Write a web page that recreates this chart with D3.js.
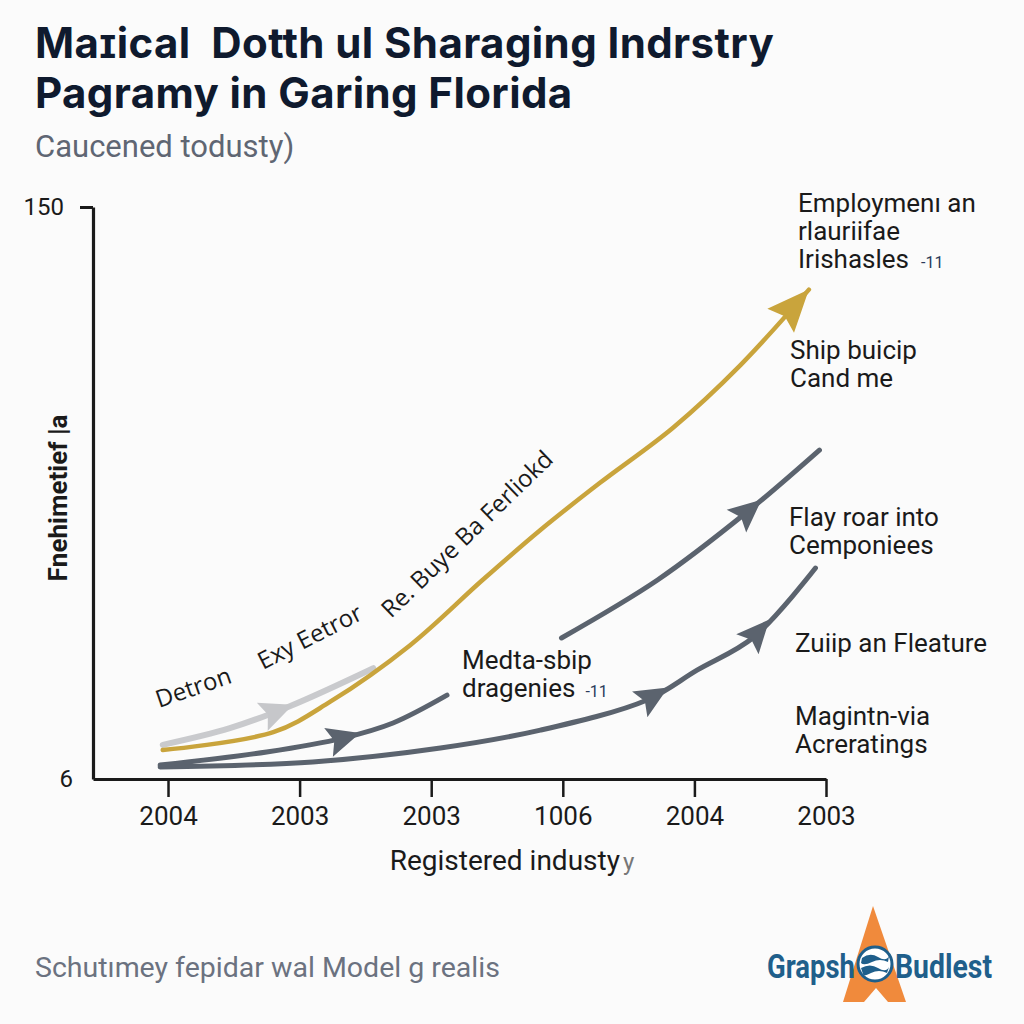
<!DOCTYPE html>
<html>
<head>
<meta charset="utf-8">
<script src="https://cdn.jsdelivr.net/npm/d3@7"></script>
<style>
  html, body { margin: 0; padding: 0; background: #fbfbfb; }
  svg { display: block; }
</style>
</head>
<body>
<svg id="chart" width="1024" height="1024"></svg>
<script>
// ---------- DATA ----------
const xTickLabels = ["2004", "2003", "2003", "1006", "2004", "2003"];
const yTickValues = [6, 150];

// series values (x in category-index units, y in chart units)
const goldX  = [-0.04, 0.80, 1.23, 1.84, 2.39, 2.83, 3.28, 3.84, 4.35, 4.87];
const goldY  = [13.3, 17.8, 25.4, 39.7, 56.1, 68.7, 80.5, 94.5, 110.2, 129.2];

const lightX = [-0.04, 0.47, 0.93, 1.56];
const lightY = [14.6, 18.8, 24.4, 33.9];

const midX   = [-0.06, 0.75, 1.33, 1.71, 2.12, null, 2.99, 3.72, 4.40, 4.95];
const midY   = [9.5, 12.8, 16.3, 20.1, 27.1, null, 41.5, 56.1, 73.2, 88.8];

const lowX   = [-0.06, 1.10, 2.07, 2.83, 3.64, 4.02, 4.45, 4.92];
const lowY   = [9.0, 10.3, 13.8, 18.3, 25.9, 33.4, 41.7, 59.1];

// arrowhead tips (x positions along a series)
const arrowSeries = ["gold", "light", "mid", "mid", "low", "low"];
const arrowTipX   = [4.87, 0.95, 1.46, 4.51, 3.80, 4.57];

// texts
const titleLines = ["Maɪical  Dotth ul Sharaging Indrstry", "Pagramy in Garing Florida"];
const subtitle = "Caucened todusty)";
const yAxisTitle = "Fnehimetief |a";
const xAxisTitle = "Registered industy";
const footnote = "Schutımey fepidar wal Model g realis";
const slantLabels = ["Detron", "Exy Eetror", "Re. Buye Ba Ferliokd"];
const midLabel = ["Medta-sbip", "dragenies"];
const rightLabels = [
  ["Employmen\u0131 an", "rlauriifae", "Irishasles"],
  ["Ship buicip", "Cand me"],
  ["Flay roar into", "Cemponiees"],
  ["Zuiip an Fleature"],
  ["Magintn-via", "Acreratings"]
];

// ---------- SETUP ----------
const svg = d3.select("#chart");
svg.append("rect").attr("width", 1024).attr("height", 1024).attr("fill", "#fbfbfb");

const x = d3.scaleLinear().domain([-0.57, 5]).range([93, 826]);
const y = d3.scaleLinear().domain([6, 150]).range([779, 207]);

const colors = { gold: "#c9a43c", light: "#c9cacd", mid: "#5b636e", low: "#5b636e" };
const widths = { gold: 4.5, light: 6, mid: 5, low: 5 };

function zipSeries(xs, ys) {
  return xs.map((v, i) => (v === null ? null : { x: v, y: ys[i] }));
}
const seriesData = {
  gold: zipSeries(goldX, goldY),
  light: zipSeries(lightX, lightY),
  mid: zipSeries(midX, midY),
  low: zipSeries(lowX, lowY)
};

// ---------- TITLES ----------
svg.append("text").attr("x", 35).attr("y", 58)
  .attr("font-family", "Inter, sans-serif").attr("font-weight", 700)
  .attr("font-size", 42).attr("letter-spacing", 0.4).attr("xml:space", "preserve")
  .style("white-space", "pre")
  .attr("fill", "#0f1a2e").text(titleLines[0]);
svg.append("text").attr("x", 35).attr("y", 108)
  .attr("font-family", "Inter, sans-serif").attr("font-weight", 700)
  .attr("font-size", 42).attr("letter-spacing", 0.4)
  .attr("fill", "#0f1a2e").text(titleLines[1]);
svg.append("text").attr("x", 35).attr("y", 157)
  .attr("font-family", "Roboto, sans-serif").attr("font-weight", 400)
  .attr("font-size", 31).attr("fill", "#5f6673").text(subtitle);

// ---------- AXES ----------
const xAxis = d3.axisBottom(x)
  .tickValues(d3.range(xTickLabels.length))
  .tickFormat(i => xTickLabels[i])
  .tickSize(18).tickSizeOuter(0).tickPadding(10);
const gx = svg.append("g").attr("transform", `translate(0,${y(6)})`).call(xAxis);
gx.select(".domain").attr("stroke", "#1a1a1a").attr("stroke-width", 3.2);
gx.selectAll(".tick line").attr("stroke", "#1a1a1a").attr("stroke-width", 2.5);
gx.selectAll(".tick text").attr("font-family", "Roboto, sans-serif")
  .attr("font-size", 26).attr("fill", "#1a1a1a");

const yAxis = d3.axisLeft(y).tickValues(yTickValues).tickFormat(d3.format("d"))
  .tickSize(13).tickSizeOuter(0).tickPadding(16);
const gy = svg.append("g").attr("transform", `translate(${x(-0.57)},0)`).call(yAxis);
gy.select(".domain").attr("stroke", "#1a1a1a").attr("stroke-width", 3.2);
gy.selectAll(".tick line").attr("stroke", "#1a1a1a").attr("stroke-width", 3)
  .attr("opacity", d => d === 6 ? 0 : 1);
gy.selectAll(".tick text").attr("font-family", "Roboto, sans-serif")
  .attr("font-size", 24).attr("fill", "#1a1a1a")
  .attr("x", d => d === 6 ? -20 : -29);

svg.append("text")
  .attr("transform", `translate(67,498) rotate(-90)`)
  .attr("text-anchor", "middle")
  .attr("font-family", "Roboto, sans-serif").attr("font-weight", 700)
  .attr("font-size", 26).attr("fill", "#1a1a1a").text(yAxisTitle);

const xt = svg.append("text").attr("x", 512).attr("y", 870)
  .attr("text-anchor", "middle")
  .attr("font-family", "Roboto, sans-serif").attr("font-size", 28).attr("fill", "#1a1a1a");
xt.append("tspan").text(xAxisTitle);
xt.append("tspan").attr("fill", "#777").attr("font-size", 24).attr("dx", 3).text("y");

// ---------- LINES ----------
const line = d3.line().defined(d => d !== null)
  .x(d => x(d.x)).y(d => y(d.y)).curve(d3.curveCatmullRom.alpha(0.5));

["light", "low", "mid", "gold"].forEach(k => {
  svg.append("path").datum(seriesData[k])
    .attr("d", line).attr("fill", "none")
    .attr("stroke", colors[k]).attr("stroke-width", widths[k])
    .attr("stroke-linecap", "round").attr("stroke-linejoin", "round");
});

// ---------- ARROWHEADS ----------
function valueAt(pts, xv) {
  const p = pts.filter(d => d !== null);
  for (let i = 0; i < p.length - 1; i++) {
    if (xv >= p[i].x && xv <= p[i + 1].x) {
      const t = (xv - p[i].x) / (p[i + 1].x - p[i].x);
      return p[i].y + t * (p[i + 1].y - p[i].y);
    }
  }
  return p[p.length - 1].y;
}
arrowSeries.forEach((k, i) => {
  const pts = seriesData[k];
  const tx = arrowTipX[i];
  const px = x(tx), py = y(valueAt(pts, tx));
  const bx = x(tx - 0.08), by = y(valueAt(pts, tx - 0.08));
  const ang = Math.atan2(py - by, px - bx);
  const big = k === "gold";
  const len = big ? 42 : 33, half = big ? 18 : 15;
  const ux = Math.cos(ang), uy = Math.sin(ang);
  const cx = px - ux * len, cy = py - uy * len;
  const pth = `M${px},${py}L${cx - uy * half},${cy + ux * half}L${cx + ux * 6},${cy + uy * 6}L${cx + uy * half},${cy - ux * half}Z`;
  svg.append("path").attr("d", pth).attr("fill", colors[k] === "#c9cacd" ? "#c6c7ca" : colors[k]);
});

// ---------- ANNOTATIONS ----------
const slantPos = [[159, 708, -19], [263, 670, -27], [391, 619, -44]];
slantLabels.forEach((t, i) => {
  svg.append("text")
    .attr("transform", `translate(${slantPos[i][0]},${slantPos[i][1]}) rotate(${slantPos[i][2]})`)
    .attr("font-family", "'Open Sans', sans-serif").attr("font-size", 24)
    .attr("fill", "#1a1a1a").text(t);
});

svg.append("text").attr("x", 462).attr("y", 669)
  .attr("font-family", "Roboto, sans-serif").attr("font-size", 26).attr("fill", "#1a1a1a")
  .text(midLabel[0]);
const ml = svg.append("text").attr("x", 462).attr("y", 697)
  .attr("font-family", "Roboto, sans-serif").attr("font-size", 26).attr("fill", "#1a1a1a");
ml.append("tspan").text(midLabel[1]);
ml.append("tspan").attr("dx", 10).attr("font-size", 16).attr("fill", "#2a3a5a").text("-11");

const rightTop = [212, 359, 526, 652, 725];
const rightX = [798, 790, 789, 795, 795];
rightLabels.forEach((grp, gi) => {
  grp.forEach((t, li) => {
    const tx = svg.append("text").attr("x", rightX[gi])
      .attr("y", rightTop[gi] + li * 28)
      .attr("font-family", "Roboto, sans-serif").attr("font-size", 26).attr("fill", "#1a1a1a");
    tx.append("tspan").text(t);
    if (gi === 0 && li === 2) {
      tx.append("tspan").attr("dx", 12).attr("font-size", 16).attr("fill", "#2a3a5a").text("-11");
    }
  });
});

// ---------- FOOTER ----------
svg.append("text").attr("x", 35).attr("y", 977)
  .attr("font-family", "Roboto, sans-serif").attr("font-size", 28.5).attr("fill", "#6b7280")
  .text(footnote);

// logo
const logo = svg.append("g");
logo.append("path")
  .attr("d", "M873,906 L906,1002 L888,1002 L876,988 L864,1002 L843,1002 Z")
  .attr("fill", "#f08a3c");
logo.append("circle").attr("cx", 875).attr("cy", 964).attr("r", 17)
  .attr("fill", "#ffffff").attr("stroke", "#1f5f8b").attr("stroke-width", 3);
logo.append("path").attr("d", "M862,958 Q870,952 878,957 T889,956 L888,962 Q880,958 872,962 T861,963 Z").attr("fill", "#1f5f8b");
logo.append("path").attr("d", "M861,968 Q870,963 878,968 T889,967 L887,973 Q879,969 871,973 T863,974 Z").attr("fill", "#1f5f8b");
logo.append("text").attr("x", 767).attr("y", 978)
  .attr("font-family", "Roboto, sans-serif").attr("font-weight", 700).attr("font-size", 34)
  .attr("fill", "#1f5f8b").attr("textLength", 88).attr("lengthAdjust", "spacingAndGlyphs").text("Grapsh");
logo.append("text").attr("x", 895).attr("y", 978)
  .attr("font-family", "Roboto, sans-serif").attr("font-weight", 700).attr("font-size", 34)
  .attr("fill", "#1f5f8b").attr("textLength", 97).attr("lengthAdjust", "spacingAndGlyphs").text("Budlest");
</script>
</body>
</html>
